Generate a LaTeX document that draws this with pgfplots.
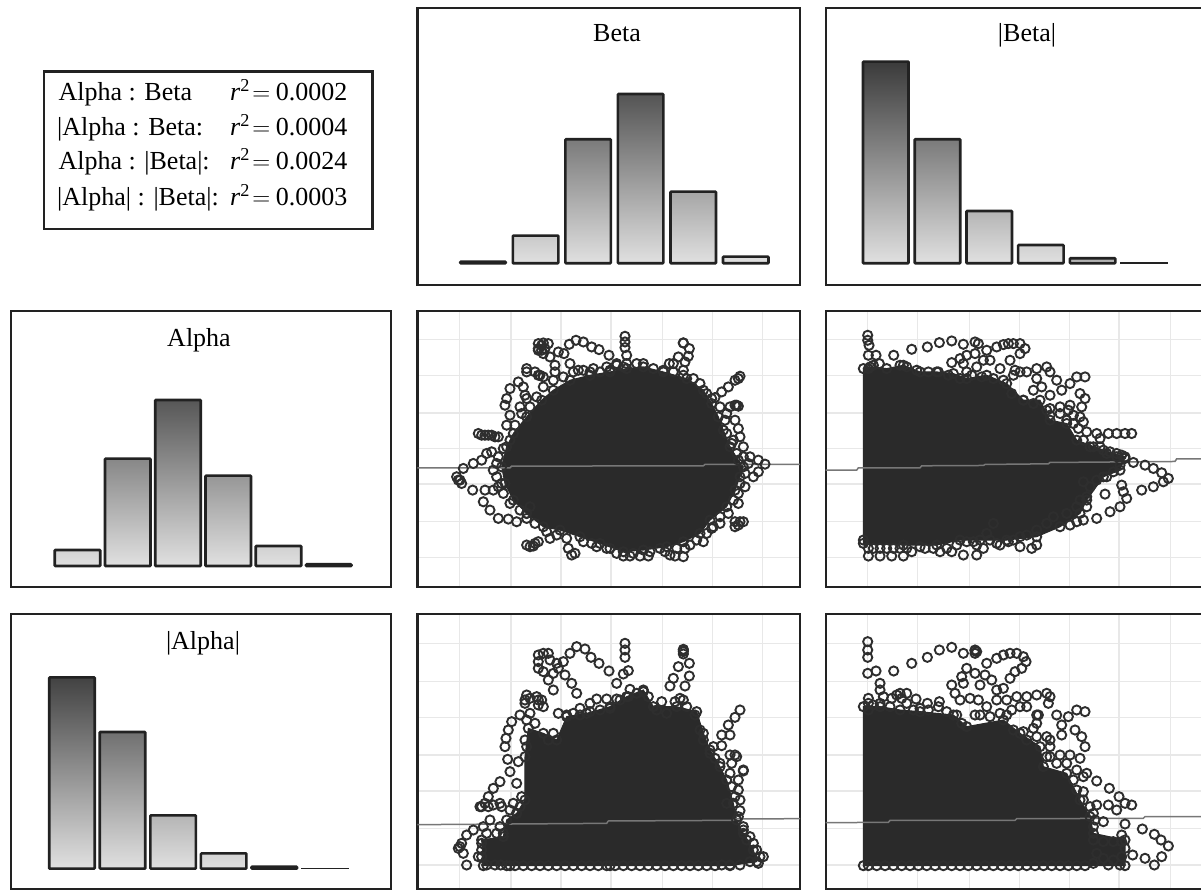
\documentclass[border=0pt]{standalone}
\usepackage{pgfplots}
\pgfplotsset{compat=1.18}
\usepackage{pgfplotstable}
\usepackage{fontspec}
\setmainfont{Liberation Serif}
\definecolor{framec}{HTML}{222222}
\definecolor{densec}{HTML}{2A2A2A}
\definecolor{ringc}{HTML}{2E2E2E}
\definecolor{gridc}{HTML}{E8E8E8}
\definecolor{regc}{HTML}{777777}

% ---- dense cores (outline of the solid region)
\pgfplotstableread{
x y
275 500
290 440
310 400
350 350
395 300
430 270
480 240
540 225
600 215
650 205
700 200
760 215
830 235
880 270
905 310
925 350
940 390
960 440
985 480
1000 500
990 530
975 570
950 620
900 660
870 700
820 725
770 740
700 750
640 755
570 730
510 710
450 690
400 680
350 640
310 600
285 550
}\polyA
\pgfplotstableread{
x y
130 205
150 200
200 205
250 195
300 215
350 215
400 220
440 235
500 225
560 250
610 300
660 300
690 360
740 370
770 420
850 450
915 470
900 510
850 530
800 600
780 640
720 680
650 710
560 720
480 720
420 720
350 735
250 735
130 730
}\polyB
\pgfplotstableread{
x y
220 797
215 720
280 710
290 660
320 640
345 600
345 470
355 385
400 400
440 420
470 350
530 340
600 320
650 290
700 270
730 320
800 320
860 335
880 400
900 450
930 500
950 540
970 610
980 660
1000 700
1030 750
1040 785
960 797
600 797
300 797
}\polyC
\pgfplotstableread{
x y
130 320
180 320
240 330
300 335
400 345
440 380
550 360
600 400
660 440
670 500
740 520
780 600
810 650
820 700
915 720
915 797
130 797
}\polyD

% ---- separate rings
\pgfplotstableread{
x y
645 108
645 125
645 142
650 165
620 190
597 165
567 148
545 140
520 125
498 120
478 132
462 160
445 155
420 170
400 160
385 130
400 128
415 130
385 150
435 195
480 190
505 210
435 215
820 128
820 128
838 145
835 168
805 170
790 190
778 190
825 185
820 210
990 228
975 240
955 260
935 275
915 292
980 315
960 320
950 340
975 360
985 385
990 410
970 420
1000 440
1020 470
1045 480
1065 492
1045 515
1030 530
1005 560
985 610
1000 665
975 680
930 670
905 685
880 725
825 745
820 770
795 768
765 755
715 768
690 768
660 768
640 768
600 745
545 730
495 760
475 745
370 738
385 725
420 715
320 665
295 657
265 655
240 630
220 605
225 570
188 570
150 540
140 530
160 505
190 490
215 480
230 460
245 455
205 400
235 405
265 410
290 375
300 345
285 315
290 295
300 265
325 245
350 205
385 225
330 320
345 285
340 260
360 620
350 640
250 570
275 550
260 490
540 215
570 215
600 210
640 200
215 405
225 405
245 405
255 410
145 540
155 550
395 135
385 145
395 150
405 145
350 215
375 215
390 225
400 230
350 295
360 740
375 730
350 735
985 235
975 315
985 318
985 675
975 665
990 665
485 765
300 420
315 375
335 340
360 320
380 290
400 260
430 240
460 230
490 215
520 210
550 205
590 200
620 195
650 190
680 190
700 190
730 205
760 210
790 215
820 225
850 235
870 250
890 280
905 295
930 320
945 360
950 400
965 430
980 460
1000 470
1015 490
1005 520
990 550
985 580
970 600
955 640
930 650
910 680
890 700
860 720
840 735
800 745
780 765
750 745
720 755
670 760
620 760
590 745
560 740
520 725
470 715
440 705
410 695
375 670
350 655
330 630
300 610
280 580
265 560
260 530
250 510
265 470
280 445
}\ringsA
\pgfplotstableread{
x y
143 105
143 120
147 135
145 165
168 165
178 190
221 165
275 147
322 140
358 127
395 122
430 132
465 125
475 130
500 150
530 140
550 133
565 130
580 130
600 130
615 145
600 160
570 180
440 165
420 175
395 187
430 190
465 160
490 180
470 200
440 215
510 180
540 205
585 210
620 215
650 205
680 200
690 215
710 240
725 270
750 250
770 230
795 230
780 280
795 295
785 320
690 325
690 345
720 320
750 315
780 350
740 360
760 345
790 365
800 395
830 400
865 400
890 400
915 400
935 400
840 415
820 440
860 460
890 470
940 487
975 495
1000 505
1025 518
1045 535
1030 545
1000 560
965 570
855 582
905 555
910 575
920 595
900 620
870 635
830 655
790 660
770 665
750 675
800 620
780 600
790 545
650 735
635 745
600 740
565 725
530 730
490 745
470 765
430 765
395 755
360 755
315 745
275 755
250 768
215 768
180 768
145 768
160 745
200 745
240 745
460 725
500 700
520 670
600 710
145 205
160 195
240 195
260 200
290 210
325 215
355 215
385 225
420 235
455 225
485 230
520 235
550 240
580 225
600 215
650 235
665 260
690 285
640 270
575 280
610 300
640 310
680 330
720 340
745 330
760 370
775 385
790 420
810 440
840 440
870 455
890 460
905 465
915 475
900 495
880 515
860 530
830 540
810 560
800 590
770 620
740 640
700 650
680 670
650 690
620 705
580 720
540 735
510 720
470 735
440 725
410 735
380 745
340 745
300 740
260 745
220 745
180 745
145 745
130 720
}\ringsB
\pgfplotstableread{
x y
645 130
645 150
645 172
655 212
640 222
620 250
597 213
567 190
543 172
525 147
500 140
480 160
460 185
445 205
430 220
465 225
485 250
500 280
415 240
430 270
400 160
415 160
385 165
385 185
385 205
400 215
420 180
440 190
350 285
345 310
385 300
330 345
305 365
295 390
288 415
285 440
293 478
325 485
300 515
270 545
250 565
235 590
320 550
210 620
235 620
270 610
300 630
330 620
510 325
540 310
560 297
590 297
620 297
660 268
755 305
795 305
820 300
820 150
820 155
820 162
838 190
805 200
790 235
780 258
838 228
825 258
990 330
975 352
955 375
960 405
935 405
935 437
910 440
975 465
1000 513
985 540
985 570
990 600
990 632
965 490
190 690
170 705
150 740
160 760
170 795
205 770
230 795
255 795
272 795
220 680
240 660
270 680
1030 730
1050 770
1045 790
1020 710
1000 680
345 300
360 295
380 290
395 300
385 315
400 320
360 340
350 360
375 370
345 420
350 440
415 420
430 400
445 340
470 345
490 340
510 345
540 335
570 330
600 325
630 300
655 290
680 280
700 275
715 290
740 330
770 340
810 295
830 320
855 345
870 390
880 420
900 460
915 475
930 490
960 465
980 470
1000 510
960 520
965 560
975 590
950 610
985 650
1000 690
1010 720
1040 750
1060 770
1020 785
990 795
960 795
935 795
215 620
225 610
250 615
275 620
310 610
335 590
320 640
280 700
260 700
230 700
215 730
215 750
215 770
145 745
155 730
820 148
290 797
315 797
340 797
365 797
390 797
415 797
440 797
465 797
490 797
515 797
540 797
565 797
590 797
615 797
640 797
665 797
690 797
715 797
740 797
765 797
790 797
815 797
840 797
865 797
890 797
915 797
}\ringsC
\pgfplotstableread{
x y
143 125
143 150
143 172
143 220
168 213
180 250
180 270
221 213
275 190
322 172
358 150
395 142
430 160
465 152
500 190
515 240
480 255
440 205
465 220
495 225
425 230
430 250
395 255
405 280
420 300
450 295
475 300
500 320
530 175
550 165
570 160
590 160
610 170
618 185
605 205
585 215
570 235
550 265
530 270
530 300
560 300
590 290
620 290
650 285
680 280
690 290
685 310
710 345
725 375
725 405
745 350
770 330
795 335
765 390
785 410
795 440
690 470
720 465
750 465
780 475
830 543
868 565
897 590
915 610
935 615
830 615
865 615
890 630
850 665
915 672
905 705
967 687
1003 703
1023 720
1045 738
1025 770
1003 795
975 775
938 765
820 680
145 295
190 290
215 295
240 280
260 280
288 297
322 310
358 305
465 345
650 345
690 420
610 395
640 385
800 520
790 575
760 540
820 790
865 795
900 795
145 310
145 330
160 315
180 310
210 320
230 285
245 295
260 310
280 330
300 325
325 330
355 320
380 335
410 345
425 370
480 345
510 350
540 340
560 345
575 330
600 320
620 320
655 345
650 370
580 390
620 420
650 410
680 410
690 440
680 470
710 490
740 490
770 510
790 530
770 570
790 600
810 620
820 640
825 660
850 725
880 725
905 725
915 745
905 770
880 780
850 775
830 760
820 720
465 160
465 150
470 155
145 797
170 797
195 797
220 797
245 797
270 797
295 797
320 797
345 797
370 797
395 797
420 797
445 797
470 797
495 797
520 797
545 797
570 797
595 797
620 797
645 797
670 797
695 797
720 797
745 797
770 797
795 797
}\ringsD

\pgfplotsset{
  panel/.style={scale only axis, anchor=south west,
    axis line style={draw=framec,line width=2.4pt},
    ticks=none, clip=true},
  scat/.style={panel, y dir=reverse,
    tick style={draw=none}, major tick length=0pt,
    xticklabels={}, yticklabels={},
    grid=major, grid style={draw=gridc,line width=1.4pt}},
  ringplot/.style={only marks, mark=o, mark size=4.6pt,
    mark options={draw=ringc,line width=1.9pt}},
  coreplot/.style={draw=densec,fill=densec,line width=1pt,no markers},
  regline/.style={draw=regc,line width=1.5pt,no markers},
}
\newcommand\hb[3]{\addplot[ybar,bar shift=0pt,bar width=45.5pt,draw=framec,line width=2.6pt,
  rounded corners=0.8pt,bottom color=black!12,top color=black!#3] coordinates {(#1,#2)};}
\newcommand\hbt[2]{\addplot[ybar,bar shift=0pt,bar width=46.5pt,draw=framec,line width=1.4pt,
  fill=framec] coordinates {(#1,#2)};}

\newcommand\scatterset[3]{%
  \addplot[coreplot] table {#1} -- cycle;
  \addplot[ringplot] table {#1};
  \addplot[ringplot] table {#2};
  \addplot[regline] coordinates {#3};
}
\newcommand\rsq[1]{\textit{r}\textsuperscript{2}\hspace{2.5pt}$=$\hspace{5.5pt}#1}

\begin{document}
\begin{tikzpicture}
\path[use as bounding box] (0pt,0pt) rectangle (1201pt,890pt);

% legend box
\draw[framec,line width=2.4pt] (44pt,660.7pt) rectangle (372.3pt,818.3pt);
\begin{scope}[every node/.style={anchor=base west,inner sep=0pt,font=\fontsize{26}{30}\selectfont}]
\node at (58.3pt,789.3pt) {Alpha : Beta};
\node at (57pt,754pt) {|Alpha : Beta:};
\node at (58.3pt,720pt) {Alpha : |Beta|:};
\node at (57pt,684pt) {|Alpha| : |Beta|:};
\node at (230pt,789.3pt) {\rsq{0.0002}};
\node at (230pt,754pt) {\rsq{0.0004}};
\node at (230pt,720pt) {\rsq{0.0024}};
\node at (230pt,684pt) {\rsq{0.0003}};
\end{scope}

% Beta histogram
\begin{axis}[panel,at={(417.3pt,605pt)},width=382.7pt,height=277pt,
  xmin=-1.25,xmax=6.032,ymin=-21.7,ymax=255.3]
\hb{0}{1.7}{13}\hb{1}{27.7}{21}\hb{2}{124}{52}\hb{3}{169.3}{67}\hb{4}{71.7}{35}\hb{5}{6.7}{14}
\end{axis}
% |Beta| histogram
\begin{axis}[panel,at={(825.7pt,605pt)},width=380.3pt,height=277pt,
  xmin=-1.162,xmax=6.193,ymin=-21.7,ymax=255.3]
\hb{0}{201.7}{77}\hb{1}{124}{52}\hb{2}{52.3}{29}\hb{3}{18.3}{18}\hb{4}{5}{40}\hbt{5}{0.2}
\end{axis}
% Alpha histogram
\begin{axis}[panel,at={(10.7pt,303pt)},width=380pt,height=276pt,
  xmin=-1.329,xmax=6.233,ymin=-21,ymax=255]
\hb{0}{16}{17}\hb{1}{107.3}{47}\hb{2}{166}{66}\hb{3}{90.3}{41}\hb{4}{20}{18}\hb{5}{1.7}{13}
\end{axis}
% |Alpha| histogram
\begin{axis}[panel,at={(10.7pt,0.5pt)},width=380pt,height=275.5pt,
  xmin=-1.211,xmax=6.302,ymin=-20.8,ymax=254.7]
\hb{0}{191.3}{74}\hb{1}{136.7}{56}\hb{2}{53.3}{29}\hb{3}{15.3}{17}\hb{4}{2}{13}\hbt{5}{0.2}
\end{axis}

% Scatter: Alpha vs Beta
\begin{axis}[scat,at={(417.3pt,303pt)},width=382.7pt,height=276pt,
  xmin=22,xmax=1170,ymin=32,ymax=861,
  xtick={148,303,453,603,757,908,1058},ytick={117,225,338,445,552,665,773}]
\scatterset{\polyA}{\ringsA}{(22,503)(300,503)(305,498)(880,497)(885,493)(1170,493)}
\end{axis}
% Scatter: Alpha vs |Beta|
\begin{axis}[scat,at={(825.7pt,303pt)},width=380.3pt,height=276pt,
  xmin=17,xmax=1158,ymin=32,ymax=861,
  xtick={143,293,449,598,748,897,1052},ytick={117,225,338,445,552,665,773}]
\scatterset{\polyB}{\ringsB}{(17,510)(110,510)(115,503)(300,503)(305,497)(490,496)(495,493)(685,491)(690,487)(1065,484)(1070,476)(1158,476)}
\end{axis}
% Scatter: |Alpha| vs Beta
\begin{axis}[scat,at={(417.3pt,0.5pt)},width=382.7pt,height=275.5pt,
  xmin=22,xmax=1170,ymin=42,ymax=868.5,
  xtick={148,303,453,603,757,908,1058},ytick={130,245,352,465,573,685,795}]
\scatterset{\polyC}{\ringsC}{(22,674)(590,670)(595,663)(970,661)(975,657)(1170,656)}
\end{axis}
% Scatter: |Alpha| vs |Beta|
\begin{axis}[scat,at={(825.7pt,0.5pt)},width=380.3pt,height=275.5pt,
  xmin=17,xmax=1158,ymin=42,ymax=868.5,
  xtick={143,293,449,598,748,897,1052},ytick={130,245,352,465,573,685,795}]
\scatterset{\polyD}{\ringsD}{(17,668)(205,667)(210,661)(585,661)(590,656)(970,655)(975,650)(1158,650)}
\end{axis}

% panel titles
\begin{scope}[every node/.style={inner sep=0pt,font=\fontsize{26}{30}\selectfont,anchor=base}]
\node at (617pt,848pt) {Beta};
\node at (1027pt,848pt) {|Beta|};
\node at (199pt,543pt) {Alpha};
\node at (203pt,240pt) {|Alpha|};
\end{scope}
\end{tikzpicture}
\end{document}
